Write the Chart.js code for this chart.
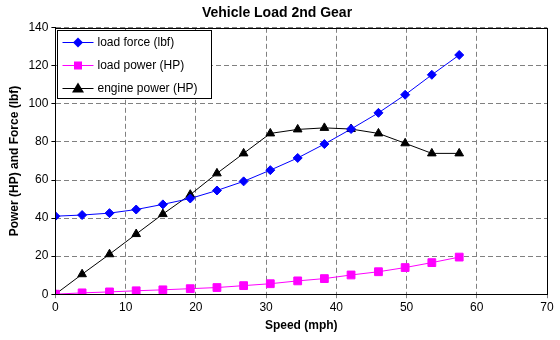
<!DOCTYPE html>
<html>
<head>
<meta charset="utf-8">
<script src="https://cdn.jsdelivr.net/npm/chart.js@4"></script>
<style>
  body { margin: 0; background: #fff; }
  #wrap { width: 560px; height: 340px; }
</style>
</head>
<body>
<div id="wrap"><canvas id="myChart" width="560" height="340"></canvas></div>
<script>
// chart data
const speed = [0, 3.8, 7.7, 11.5, 15.3, 19.2, 23, 26.8, 30.6, 34.5, 38.3, 42.1, 46, 49.8, 53.6, 57.5];
const loadForce = [41, 41.6, 42.6, 44.5, 47.2, 50.3, 54.5, 59.3, 65.2, 71.6, 78.9, 86.8, 95.3, 104.8, 115.3, 125.7];
const loadPower = [0, 0.7, 1.2, 1.8, 2.3, 2.9, 3.5, 4.5, 5.5, 7.0, 8.2, 10.1, 11.8, 14.0, 16.6, 19.5];
const enginePower = [0, 10.5, 21, 31.6, 42.1, 52.3, 63.5, 74, 84.5, 86.6, 87.4, 86.8, 84.5, 79.3, 74, 74];
const seriesNames = ['load force (lbf)', 'load power (HP)', 'engine power (HP)'];
const xTicks = [0, 10, 20, 30, 40, 50, 60, 70];
const yTicks = [0, 20, 40, 60, 80, 100, 120, 140];

const font = '"Liberation Sans", Arial, sans-serif';

function toPoints(ys) {
  return speed.map((x, i) => ({ x: x, y: ys[i] }));
}

// frame round the plot area
const frame = {
  id: 'frame',
  afterDatasetsDraw(chart) {
    const a = chart.chartArea;
    const c = chart.ctx;
    c.save();
    c.strokeStyle = '#000';
    c.lineWidth = 1;
    c.strokeRect(Math.round(a.left) + 0.5, Math.round(a.top) + 0.5,
                 Math.round(a.right - a.left), Math.round(a.bottom - a.top));
    c.restore();
  }
};

// boxed legend inside the plot, top left
const boxLegend = {
  id: 'boxLegend',
  afterDraw(chart) {
    const a = chart.chartArea;
    const c = chart.ctx;
    const x0 = Math.round(a.left) + 2.5, y0 = Math.round(a.top) + 2.5;
    const w = 154, h = 68;
    c.save();
    c.fillStyle = '#fff';
    c.fillRect(x0, y0, w, h);
    c.strokeStyle = '#000';
    c.lineWidth = 1;
    c.strokeRect(x0, y0, w, h);
    c.font = '12px ' + font;
    c.textBaseline = 'middle';
    chart.data.datasets.forEach((ds, i) => {
      const yy = y0 + 12 + i * 23;
      c.strokeStyle = ds.borderColor;
      c.beginPath();
      c.moveTo(x0 + 5, yy);
      c.lineTo(x0 + 36, yy);
      c.stroke();
      c.fillStyle = ds.pointBackgroundColor;
      const cx = x0 + 20.5;
      c.beginPath();
      if (ds.pointStyle === 'rectRot') {
        const r = 5;
        c.moveTo(cx, yy - r); c.lineTo(cx + r, yy); c.lineTo(cx, yy + r); c.lineTo(cx - r, yy);
      } else if (ds.pointStyle === 'rect') {
        c.rect(cx - 4, yy - 4, 8, 8);
      } else {
        c.moveTo(cx, yy - 6); c.lineTo(cx + 6, yy + 4); c.lineTo(cx - 6, yy + 4);
      }
      c.closePath();
      c.fill();
      c.fillStyle = '#000';
      c.fillText(seriesNames[i], x0 + 40, yy);
    });
    c.restore();
  }
};

var ctx = document.getElementById('myChart').getContext('2d');
var chart = new Chart(ctx, {
  type: 'line',
  data: {
    datasets: [{
      label: seriesNames[0],
      data: toPoints(loadForce),
      borderColor: '#0000ff',
      backgroundColor: '#0000ff',
      pointBackgroundColor: '#0000ff',
      pointBorderColor: '#0000ff',
      pointStyle: 'rectRot',
      pointRadius: 4.5,
      borderWidth: 1
    }, {
      label: seriesNames[1],
      data: toPoints(loadPower),
      borderColor: '#ff00ff',
      backgroundColor: '#ff00ff',
      pointBackgroundColor: '#ff00ff',
      pointBorderColor: '#ff00ff',
      pointStyle: 'rect',
      pointRadius: 5.5,
      borderWidth: 1
    }, {
      label: seriesNames[2],
      data: toPoints(enginePower),
      borderColor: '#000000',
      backgroundColor: '#000000',
      pointBackgroundColor: '#000000',
      pointBorderColor: '#000000',
      pointStyle: 'triangle',
      pointRadius: 5,
      borderWidth: 1
    }]
  },
  options: {
    responsive: false,
    animation: false,
    layout: { padding: { left: 7, right: 13, top: 0, bottom: 7 } },
    plugins: {
      legend: { display: false },
      tooltip: { enabled: false },
      title: {
        display: true,
        text: 'Vehicle Load 2nd Gear',
        color: '#000',
        font: { family: font, size: 14, weight: 'bold' },
        padding: { top: 5, bottom: 6 }
      }
    },
    scales: {
      x: {
        type: 'linear',
        min: 0,
        max: 70,
        afterBuildTicks: s => { s.ticks = xTicks.map(v => ({ value: v })); },
        ticks: { color: '#000', font: { family: font, size: 12 }, padding: 2, maxRotation: 0 },
        grid: { color: '#808080', tickColor: '#808080', tickLength: 4, tickBorderDash: [5, 3] },
        border: { color: '#000', dash: [5, 3] },
        title: {
          display: true,
          text: 'Speed (mph)',
          color: '#000',
          font: { family: font, size: 12, weight: 'bold' },
          padding: { top: 2, bottom: 0 }
        }
      },
      y: {
        min: 0,
        max: 140,
        afterBuildTicks: s => { s.ticks = yTicks.map(v => ({ value: v })); },
        ticks: { color: '#000', font: { family: font, size: 12 }, padding: 3 },
        grid: { color: '#808080', tickColor: '#000', tickLength: 4, tickBorderDash: [] },
        border: { color: '#000', dash: [5, 3] },
        title: {
          display: true,
          text: 'Power (HP) and Force (lbf)',
          color: '#000',
          font: { family: font, size: 12, weight: 'bold' },
          padding: { top: 0, bottom: 4 }
        }
      }
    }
  },
  plugins: [frame, boxLegend]
});
</script>
</body>
</html>
